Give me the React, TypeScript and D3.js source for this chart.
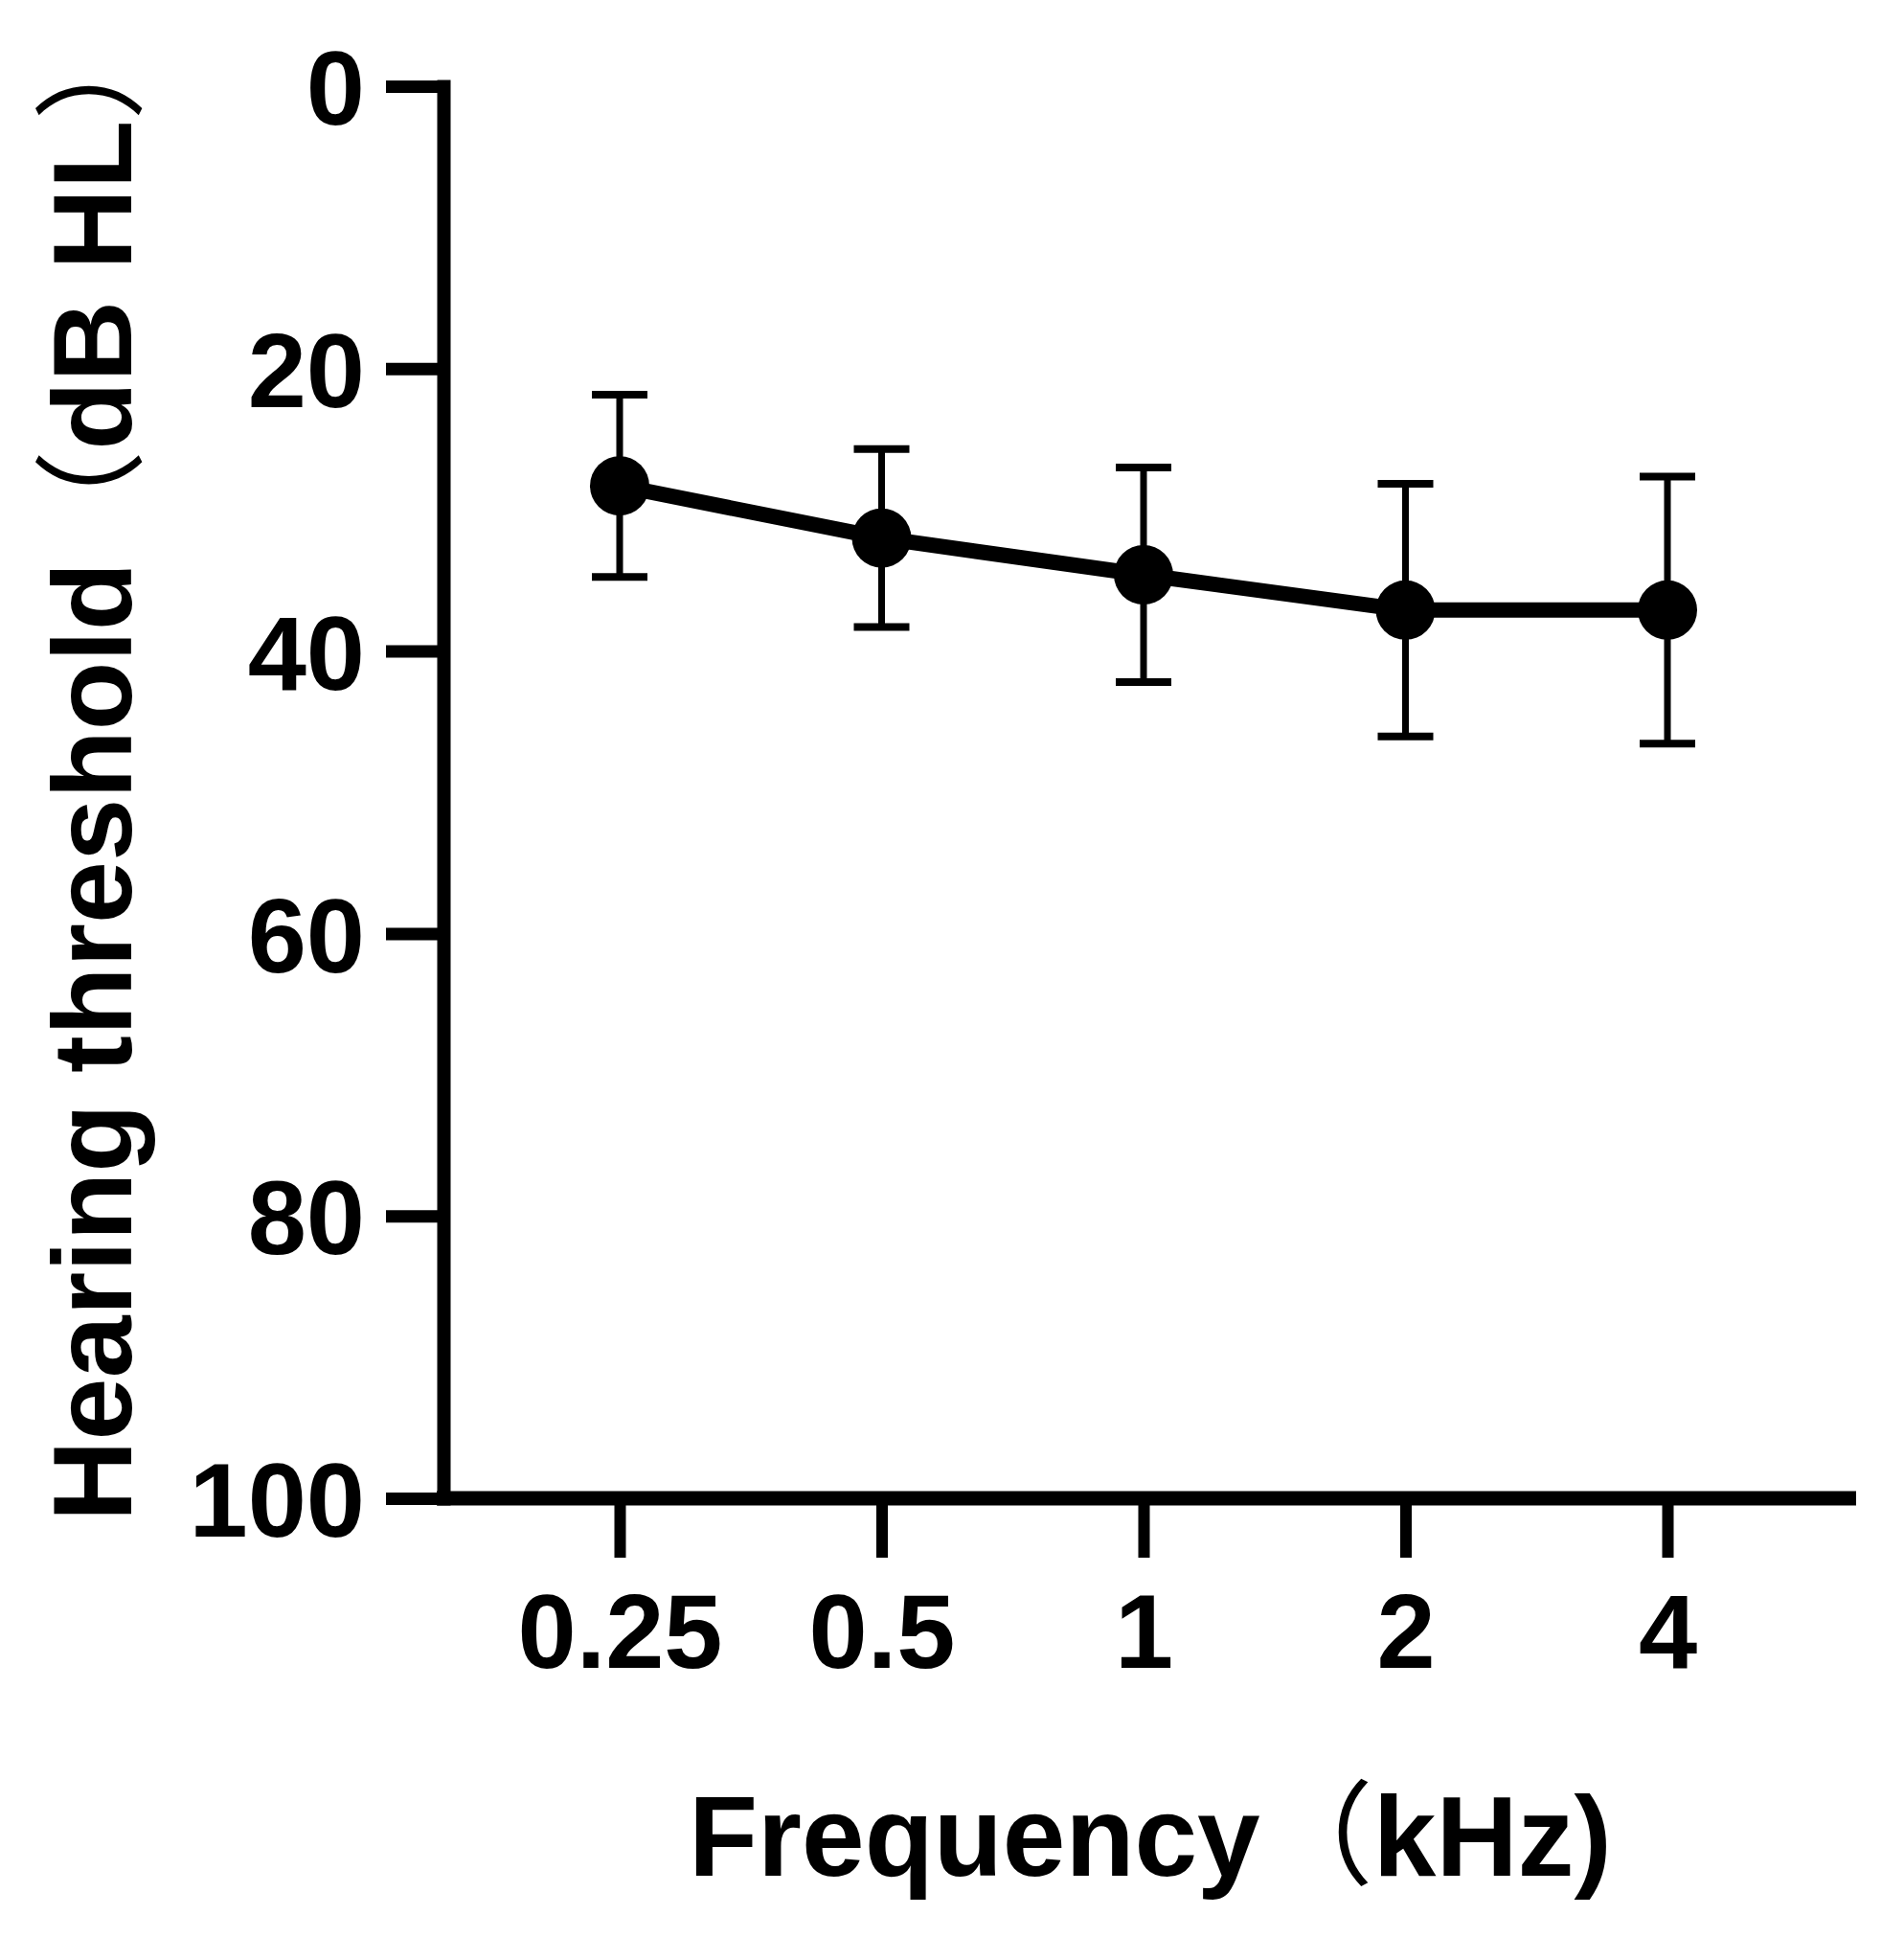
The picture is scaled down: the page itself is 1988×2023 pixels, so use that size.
import * as d3 from 'd3'
import { useEffect, useRef } from 'react'

const W = 1988
const H = 2023

const freqLabels = ['0.25', '0.5', '1', '2', '4']
const meanThreshold = [28.3, 32.0, 34.6, 37.1, 37.1]
const sdThreshold = [6.45, 6.3, 7.6, 8.95, 9.45]
const yTicks = [0, 20, 40, 60, 80, 100]

const FONT = '"Liberation Sans", Arial, sans-serif'
const CJK_FONT = '"Noto Sans CJK SC", "Noto Sans CJK JP", sans-serif'

export default function App() {
  const svgRef = useRef<SVGSVGElement>(null)

  useEffect(() => {
    const svgEl = svgRef.current
    if (!svgEl) return
    const svg = d3.select(svgEl)
    svg.selectAll('*').remove()

    const x = d3.scalePoint<string>().domain(freqLabels).range([647, 1741])
    const y = d3.scaleLinear().domain([0, 100]).range([90, 1564])
    const axisX = 463

    const data = freqLabels.map((f, i) => ({ f, mean: meanThreshold[i], sd: sdThreshold[i] }))

    // y axis
    const gy = svg.append('g').attr('transform', `translate(${axisX},0)`)
    gy.call(d3.axisLeft(y).tickValues(yTicks).tickSize(60).tickSizeOuter(0).tickPadding(22))
    gy.select('.domain').attr('stroke', '#000').attr('stroke-width', 14).attr('stroke-linecap', 'square')
    gy.selectAll('.tick line').attr('stroke', '#000').attr('stroke-width', 13)
    gy.selectAll('.tick text')
      .attr('fill', '#000')
      .attr('font-family', FONT)
      .attr('font-weight', 700)
      .attr('font-size', 110)
      .attr('dy', '0.36em')

    // x axis
    const gx = svg.append('g').attr('transform', `translate(0,${y(100)})`)
    gx.call(d3.axisBottom(x).tickSize(62).tickSizeOuter(0).tickPadding(37))
    gx.select('.domain').remove()
    gx.append('line')
      .attr('x1', axisX - 7)
      .attr('x2', 1938)
      .attr('y1', 0)
      .attr('y2', 0)
      .attr('stroke', '#000')
      .attr('stroke-width', 15)
    gx.selectAll('.tick line').attr('stroke', '#000').attr('stroke-width', 12)
    gx.selectAll('.tick text')
      .attr('fill', '#000')
      .attr('font-family', FONT)
      .attr('font-weight', 700)
      .attr('font-size', 110)

    // error bars (mean ± SD)
    const eb = svg.append('g').attr('stroke', '#000').attr('stroke-width', 7).attr('fill', 'none')
    const capW = 29
    data.forEach((d) => {
      const cx = x(d.f)!
      const y0 = y(d.mean - d.sd)
      const y1 = y(d.mean + d.sd)
      eb.append('line').attr('x1', cx).attr('x2', cx).attr('y1', y0).attr('y2', y1)
      eb.append('line').attr('x1', cx - capW).attr('x2', cx + capW).attr('y1', y0).attr('y2', y0).attr('stroke-width', 8)
      eb.append('line').attr('x1', cx - capW).attr('x2', cx + capW).attr('y1', y1).attr('y2', y1).attr('stroke-width', 8)
    })

    // mean line + markers
    const line = d3
      .line<(typeof data)[number]>()
      .x((d) => x(d.f)!)
      .y((d) => y(d.mean))
    svg.append('path').datum(data).attr('d', line(data) ?? '').attr('fill', 'none').attr('stroke', '#000').attr('stroke-width', 16)

    svg
      .append('g')
      .selectAll('circle')
      .data(data)
      .join('circle')
      .attr('cx', (d) => x(d.f)!)
      .attr('cy', (d) => y(d.mean))
      .attr('r', 31)
      .attr('fill', '#000')

    // axis titles
    const yt = svg
      .append('text')
      .attr('transform', `translate(137,1588) rotate(-90)`)
      .attr('text-anchor', 'start')
      .attr('font-family', FONT)
      .attr('font-weight', 700)
      .attr('font-size', 117)
      .attr('fill', '#000')
    yt.append('tspan').text('Hearing threshold')
    yt.append('tspan').attr('font-family', CJK_FONT).attr('font-weight', 400).text('（')
    yt.append('tspan').text('dB HL')
    yt.append('tspan').attr('font-family', CJK_FONT).attr('font-weight', 400).text('）')

    const xt = svg
      .append('text')
      .attr('x', 719)
      .attr('y', 1958)
      .attr('text-anchor', 'start')
      .attr('font-family', FONT)
      .attr('font-weight', 700)
      .attr('font-size', 118)
      .attr('fill', '#000')
    xt.append('tspan').text('Frequency')
    xt.append('tspan').attr('font-family', CJK_FONT).attr('font-weight', 400).text('（')
    xt.append('tspan').text('kHz)')
  }, [])

  return (
    <div style={{ position: 'absolute', left: 0, top: 0, width: W, height: H, background: '#fff' }}>
      <svg ref={svgRef} width={W} height={H} />
    </div>
  )
}
